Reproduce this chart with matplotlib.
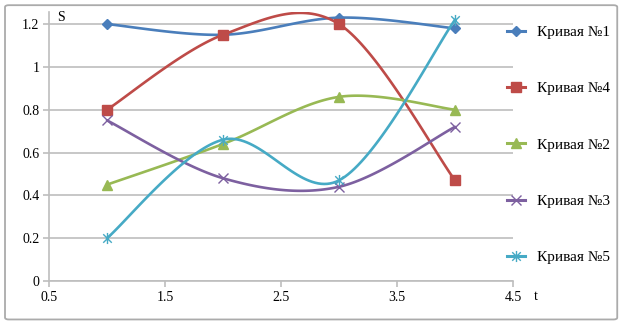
import matplotlib
matplotlib.use("Agg")
import matplotlib.pyplot as plt
from matplotlib.patches import FancyBboxPatch
from matplotlib.path import Path
import numpy as np

plt.rcParams["font.family"] = ["Liberation Serif", "DejaVu Serif"]

# data
t = [1, 2, 3, 4]
s1 = [1.20, 1.15, 1.23, 1.18]
s4 = [0.80, 1.15, 1.20, 0.47]
s2 = [0.45, 0.64, 0.86, 0.80]
s3 = [0.75, 0.48, 0.44, 0.72]
s5 = [0.20, 0.66, 0.47, 1.22]
labels = ["Кривая №1", "Кривая №4", "Кривая №2", "Кривая №3", "Кривая №5"]
x_ticks = [0.5, 1.5, 2.5, 3.5, 4.5]
y_ticks = [0, 0.2, 0.4, 0.6, 0.8, 1.0, 1.2]
y_tick_labels = ["0", "0.2", "0.4", "0.6", "0.8", "1", "1.2"]

colors = ["#4A7EBB", "#BE4B48", "#98B954", "#7D60A0", "#46AAC5"]

star = Path([(-1, -1), (1, 1), (-1, 1), (1, -1), (0, -1.3), (0, 1.3)],
            [Path.MOVETO, Path.LINETO, Path.MOVETO, Path.LINETO, Path.MOVETO, Path.LINETO])
markers = ["D", "s", "^", "x", star]
msizes = [5.5, 7, 7, 7, 8]


def smooth(x, y, n=40):
    # excel-like bezier smoothing
    p = np.column_stack([x, y]).astype(float)
    pp = np.vstack([p[0], p, p[-1]])
    out = []
    for i in range(len(p) - 1):
        p0, p1, p2, p3 = pp[i], pp[i + 1], pp[i + 2], pp[i + 3]
        c1 = p1 + (p2 - p0) / 6
        c2 = p2 - (p3 - p1) / 6
        u = np.linspace(0, 1, n)[:, None]
        seg = (1 - u) ** 3 * p1 + 3 * (1 - u) ** 2 * u * c1 + 3 * (1 - u) * u ** 2 * c2 + u ** 3 * p2
        out.append(seg if i == 0 else seg[1:])
    out = np.vstack(out)
    return out[:, 0], out[:, 1]


fig = plt.figure(figsize=(6.26, 3.24), dpi=100, facecolor="white")
ax = fig.add_axes([0.0783, 0.1327, 0.7412, 0.830])

for i, ys in enumerate([s1, s4, s2, s3, s5]):
    xs_, ys_ = smooth(t, ys)
    ax.plot(xs_, ys_, color=colors[i], lw=1.9, zorder=3 + i, solid_capstyle="round")
    ax.plot(t, ys, ls="none", marker=markers[i], ms=msizes[i], color=colors[i],
            mfc=colors[i] if i < 3 else "none", mec=colors[i], mew=1.0, zorder=3 + i)
    # legend handle
    ax.plot([], [], color=colors[i], lw=2.2, marker=markers[i], ms=msizes[i],
            mfc=colors[i] if i < 3 else "none", mec=colors[i], mew=1.0, label=labels[i])

ax.set_xlim(0.5, 4.5)
ax.set_ylim(0, 1.256)
ax.set_xticks(x_ticks)
ax.set_xticklabels([str(v) for v in x_ticks])
ax.set_yticks(y_ticks)
ax.set_yticklabels(y_tick_labels)
ax.grid(axis="y", color="#BEBEBE", lw=1.2)
ax.set_axisbelow(True)
for sp in ["top", "right"]:
    ax.spines[sp].set_visible(False)
for sp in ["left", "bottom"]:
    ax.spines[sp].set_color("#BEBEBE")
    ax.spines[sp].set_linewidth(1.2)
ax.tick_params(axis="both", direction="out", length=4, width=1.2, color="#BEBEBE",
               labelsize=10, pad=3)

ax.text(0.57, 1.232, "S", fontsize=10, va="center")
fig.text(0.853, 0.075, "t", fontsize=10)

fig.legend(loc="center left", bbox_to_anchor=(0.81, 0.553), frameon=False,
           fontsize=11, labelspacing=2.79, handlelength=1.18, handletextpad=0.78,
           borderpad=0, borderaxespad=0)

border = FancyBboxPatch((0.008, 0.014), 0.978, 0.97, boxstyle="round,pad=0,rounding_size=0.006",
                        transform=fig.transFigure, facecolor="none", edgecolor="#ABABAB",
                        lw=1.3, zorder=0)
fig.patches.append(border)

fig.savefig("out.png", dpi=100, facecolor="white")
